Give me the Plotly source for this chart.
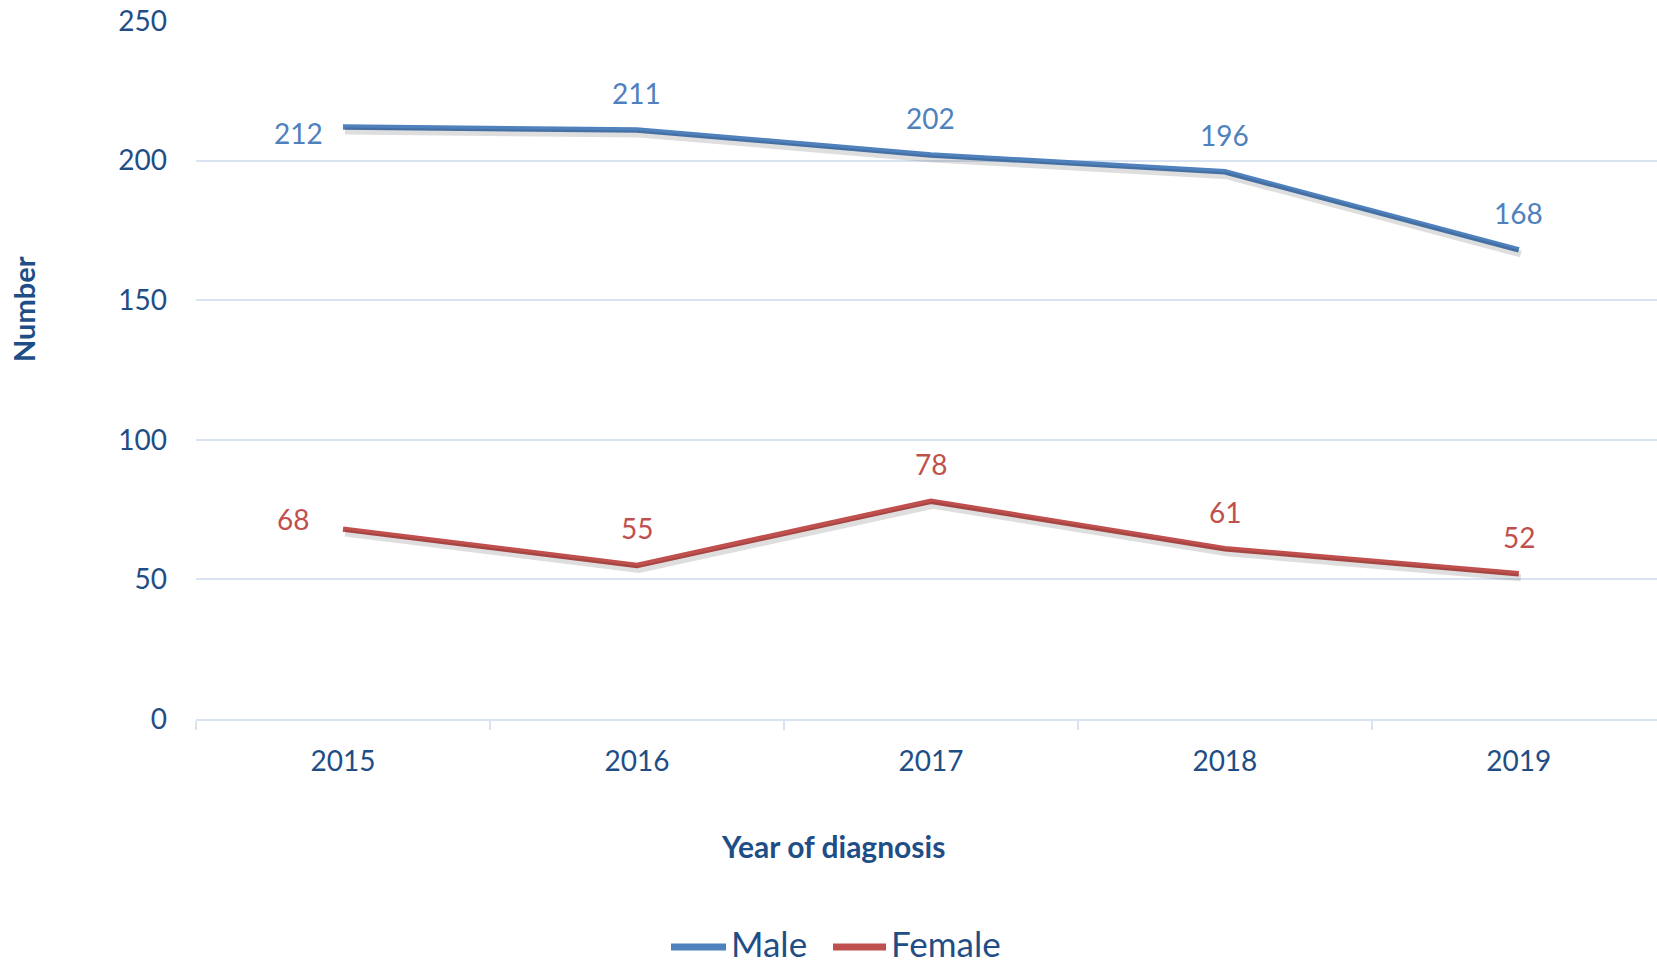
import plotly.graph_objects as go

# Cases by year of diagnosis
years = ["2015", "2016", "2017", "2018", "2019"]
male = [212, 211, 202, 196, 168]
female = [68, 55, 78, 61, 52]

y_ticks = [0, 50, 100, 150, 200, 250]

W, H = 1657, 965
M_L, M_R, M_T, M_B = 196, 0, 21, 246
plot_w = W - M_L - M_R
plot_h = H - M_T - M_B

x_range = [-0.5, 4.47]
y_range = [0, 250]

TEXT = "#1f4e86"
GRID = "#d9e3f1"
MALE_C = "#4f81bd"
FEMALE_C = "#c0504d"
FONT = "Lato, 'Open Sans', sans-serif"

# soft drop shadow: same lines drawn on an overlay axis shifted a few pixels
dx_px, dy_px = 2.0, 4.0
dx = dx_px * (x_range[1] - x_range[0]) / plot_w
dy = dy_px * (y_range[1] - y_range[0]) / plot_h

fig = go.Figure()

for vals in (male, female):
    fig.add_trace(go.Scatter(
        x=list(range(len(years))), y=vals, mode="lines",
        line=dict(color="rgba(0,0,0,0.13)", width=7),
        xaxis="x2", yaxis="y2", showlegend=False, hoverinfo="skip",
    ))

series = [("Male", male, MALE_C), ("Female", female, FEMALE_C)]
for name, vals, col in series:
    fig.add_trace(go.Scatter(x=years, y=vals, mode="lines", name=name,
                             line=dict(color=col, width=5.5),
                             showlegend=False))

# value labels: first point sits to the left of the line, others above it
first_offset = {"Male": (-44, -6), "Female": (-50, 10)}
annotations = []
for name, vals, col in series:
    for i, v in enumerate(vals):
        sx, sy = first_offset[name] if i == 0 else (0, 37)
        annotations.append(dict(
            x=i, y=v, xref="x", yref="y", text=str(v), showarrow=False,
            xanchor="center", yanchor="middle",
            xshift=sx, yshift=sy,
            font=dict(family=FONT, size=28, color=col),
        ))

annotations.append(dict(
    text="<b>Number</b>", xref="paper", yref="paper",
    x=-(M_L - 24) / plot_w, y=(H - 309 - M_B) / plot_h,
    xanchor="center", yanchor="middle",
    textangle=-90, showarrow=False,
    font=dict(family=FONT, size=29, color=TEXT),
))
annotations.append(dict(
    text="<b>Year of diagnosis</b>", xref="paper", yref="paper",
    x=(833 - M_L) / plot_w, y=-(846 - (H - M_B)) / plot_h,
    xanchor="center", yanchor="middle",
    showarrow=False,
    font=dict(family=FONT, size=30, color=TEXT),
))

# legend drawn as line keys + labels along the bottom
shapes = []
legend_y = 943
key_spans = [(671, 726), (833, 886)]
for (name, _, col), (k0, k1) in zip(series, key_spans):
    shapes.append(dict(
        type="line", xref="paper", yref="paper",
        x0=(k0 - M_L) / plot_w, x1=(k1 - M_L) / plot_w,
        y0=-(legend_y + 4 - (H - M_B)) / plot_h, y1=-(legend_y + 4 - (H - M_B)) / plot_h,
        line=dict(color=col, width=7),
    ))
    annotations.append(dict(
        text=name, xref="paper", yref="paper",
        x=(k1 + 3 - M_L) / plot_w, y=-(legend_y - (H - M_B)) / plot_h,
        xanchor="left", yanchor="middle", showarrow=False,
        font=dict(family=FONT, size=35, color=TEXT),
    ))

fig.update_layout(
    width=W, height=H,
    margin=dict(l=M_L, r=M_R, t=M_T, b=M_B, autoexpand=False),
    paper_bgcolor="white", plot_bgcolor="white",
    font=dict(family=FONT, color=TEXT),
    showlegend=False,
    xaxis=dict(
        type="category", range=x_range,
        showgrid=False, zeroline=False,
        showline=True, linecolor=GRID, linewidth=2,
        ticks="outside", tickson="boundaries", ticklen=9, tickcolor=GRID, tickwidth=2,
        tickfont=dict(size=28, color=TEXT, family=FONT),
        ticklabelstandoff=16,
    ),
    yaxis=dict(
        range=y_range, tickvals=y_ticks,
        showgrid=True, gridcolor=GRID, gridwidth=2,
        zeroline=False, showline=False,
        tickfont=dict(size=28, color=TEXT, family=FONT),
        ticklabelstandoff=28,
    ),
    xaxis2=dict(overlaying="x", range=[x_range[0] - dx, x_range[1] - dx],
                visible=False, showgrid=False),
    yaxis2=dict(overlaying="y", range=[y_range[0] + dy, y_range[1] + dy],
                visible=False, showgrid=False),
    shapes=shapes,
    annotations=annotations,
)

fig.write_html("out.html")
